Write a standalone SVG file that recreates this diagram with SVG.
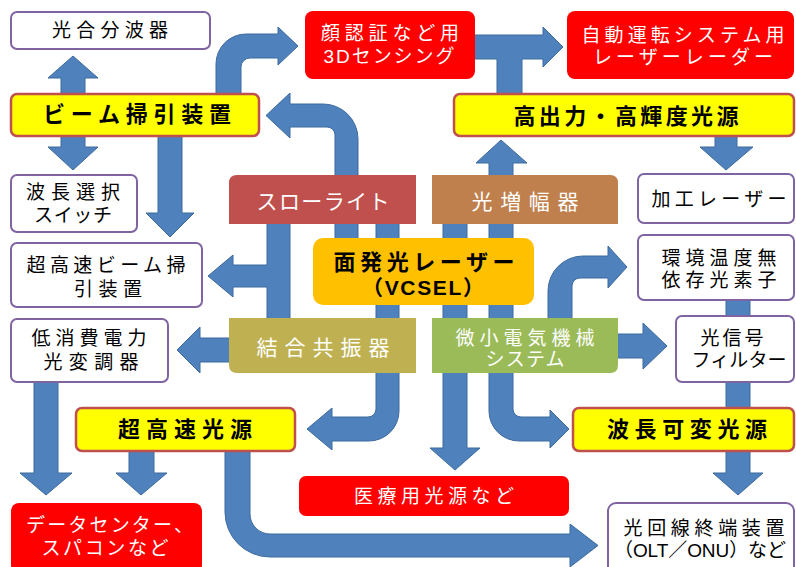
<svg xmlns="http://www.w3.org/2000/svg" width="796" height="567" viewBox="0 0 796 567">
<style>
.arr{fill:#4f81bd;stroke:#3d6a9e;stroke-width:1}
.wb{fill:#fff;stroke:#8064a2;stroke-width:2}
.yb{fill:#ffff00;stroke:#c0504d;stroke-width:2.5}
.rb{fill:#ff0000}
text{font-family:"Liberation Sans","Noto Sans CJK JP",sans-serif;dominant-baseline:central;text-anchor:middle}
.t{font-size:19px;fill:#000}
.tw{font-size:19px;fill:#fff}
.tb{font-size:22px;font-weight:bold;fill:#000}
.tc{font-size:21px;fill:#fff}
</style>
<rect width="796" height="567" fill="#fff"/>
<g id="connectors">
<path class="arr" d="M73,56 L98,78 L85,78 L85,147 L98,147 L73,170 L48,147 L61,147 L61,78 L48,78 Z"/>
<path class="arr" d="M158,130 L182,130 L182,213 L194,213 L170,237 L146,213 L158,213 Z"/>
<path class="arr" d="M216,100 L216,64 A30,30 0 0 1 246,34 L278,34 L278,27 L298,46 L278,65 L278,58 L250,58 A9,9 0 0 0 241,67 L241,100 Z"/>
<path class="arr" d="M358,240 L358,139 A35,35 0 0 0 323,104 L290,104 L290,93 L266,115.5 L290,138 L290,127 L327,127 A8,8 0 0 1 335,135 L335,240 Z"/>
<path class="arr" d="M501,140 L527,163 L513,163 L513,409 A8,8 0 0 0 521,417 L550,417 L550,410 L569,429 L550,448 L550,441 L519,441 A30,30 0 0 1 489,411 L489,163 L476,163 Z"/>
<path class="arr" d="M376,220 L399,220 L399,411 A30,30 0 0 1 369,441 L332,441 L332,450 L307,429 L332,408 L332,417 L368,417 A8,8 0 0 0 376,409 Z"/>
<path class="arr" d="M443,220 L467,220 L467,448 L480,448 L455,470 L430,448 L443,448 Z"/>
<path class="arr" d="M470,35 L543,35 L543,27 L563,47 L543,67 L543,59 L522,59 L522,100 L497,100 L497,59 L470,59 Z"/>
<path class="arr" d="M715,130 L737,130 L737,147 L753,147 L726,170 L700,147 L715,147 Z"/>
<path class="arr" d="M290,222 L290,320 L267,320 L267,287 L233,287 L233,297 L208,276 L233,255 L233,265 L267,265 L267,222 Z"/>
<path class="arr" d="M235,338 L235,362 L200,362 L200,373 L177,350 L200,327 L200,338 Z"/>
<path class="arr" d="M610,334 L643,334 L643,323 L667,346 L643,369 L643,358 L610,358 Z"/>
<path class="arr" d="M548,325 L548,291 A35,35 0 0 1 583,256 L608,256 L608,246 L627,267 L608,288 L608,278 L580,278 A8,8 0 0 0 572,286 L572,325 Z"/>
<path class="arr" d="M726,295 L750,295 L750,473 L763,473 L738,495 L713,473 L726,473 Z"/>
<path class="arr" d="M34,378 L58,378 L58,473 L72,473 L46,495 L20,473 L34,473 Z"/>
<path class="arr" d="M129,445 L154,445 L154,473 L167,473 L141,495 L116,473 L129,473 Z"/>
<path class="arr" d="M225,445 L250,445 L250,514 A20,20 0 0 0 270,534 L570,534 L570,524 L598,545.5 L570,567 L570,557 L270,557 A45,45 0 0 1 225,512 Z"/>
</g>
<g id="n-hikarigobunpa"><rect class="wb" x="11" y="12" width="199" height="37" rx="6"/><text class="t" x="110" y="30" textLength="116" lengthAdjust="spacing">光合分波器</text></g>
<g id="n-beam"><rect class="yb" x="11" y="94" width="248" height="42" rx="6"/><text class="tb" x="137" y="114" textLength="188" lengthAdjust="spacing">ビーム掃引装置</text></g>
<g id="n-3d"><rect class="rb" x="305" y="11" width="170" height="68" rx="8"/><text class="tw" x="390" y="33" textLength="138" lengthAdjust="spacing">顔認証など用</text><text class="tw" x="389" y="56" textLength="131" lengthAdjust="spacing">3Dセンシング</text></g>
<g id="n-jidou"><rect class="rb" x="567" y="11" width="227" height="68" rx="8"/><text class="tw" x="683" y="35" textLength="203" lengthAdjust="spacing">自動運転システム用</text><text class="tw" x="683" y="57" textLength="180" lengthAdjust="spacing">レーザーレーダー</text></g>
<g id="n-koushutsu"><rect class="yb" x="454" y="94" width="340" height="42" rx="6"/><text class="tb" x="626" y="116" textLength="225" lengthAdjust="spacing">高出力・高輝度光源</text></g>
<g id="n-hachousentaku"><rect class="wb" x="11" y="175" width="126" height="57" rx="6"/><text class="t" x="73" y="192" textLength="94" lengthAdjust="spacing">波長選択</text><text class="t" x="73" y="215" textLength="78" lengthAdjust="spacing">スイッチ</text></g>
<g id="n-chokousokubeam"><rect class="wb" x="11" y="243" width="191" height="64" rx="6"/><text class="t" x="106" y="265" textLength="159" lengthAdjust="spacing">超高速ビーム掃</text><text class="t" x="108" y="289" textLength="68" lengthAdjust="spacing">引装置</text></g>
<g id="n-teishouhi"><rect class="wb" x="11" y="319" width="157" height="63" rx="6"/><text class="t" x="89" y="338" textLength="115" lengthAdjust="spacing">低消費電力</text><text class="t" x="91" y="362" textLength="95" lengthAdjust="spacing">光変調器</text></g>
<g id="n-slowlight"><path fill="#c0504d" d="M229,224 L229,183 Q229,175 237,175 L416,175 L416,224 Z"/><text class="tc" x="323" y="201" textLength="133" lengthAdjust="spacing">スローライト</text></g>
<g id="n-zoufuku"><path fill="#c0804d" d="M432,175 L610,175 Q618,175 618,183 L618,224 L432,224 Z"/><text class="tc" x="525" y="201" textLength="107" lengthAdjust="spacing">光増幅器</text></g>
<g id="n-vcsel"><rect fill="#ffc000" x="313" y="238" width="221" height="67" rx="10"/><text class="tb" x="424" y="262" textLength="181" lengthAdjust="spacing">面発光レーザー</text><text class="tb" x="423" y="287" style="font-size:21px" textLength="122" lengthAdjust="spacing">（VCSEL）</text></g>
<g id="n-ketsugou"><path fill="#bfb152" d="M229,318 L416,318 L416,373 L237,373 Q229,373 229,365 Z"/><text class="tc" x="323" y="347" textLength="133" lengthAdjust="spacing">結合共振器</text></g>
<g id="n-mems"><path fill="#9bbb59" d="M432,318 L618,318 L618,365 Q618,373 610,373 L432,373 Z"/><text class="tw" x="525" y="338" textLength="139" lengthAdjust="spacing">微小電気機械</text><text class="tw" x="525" y="359" textLength="79" lengthAdjust="spacing">システム</text></g>
<g id="n-kakou"><rect class="wb" x="638" y="174" width="156" height="49" rx="6"/><text class="t" x="719" y="199" textLength="135" lengthAdjust="spacing">加工レーザー</text></g>
<g id="n-kankyou"><rect class="wb" x="638" y="235" width="156" height="65" rx="6"/><text class="t" x="719" y="258" textLength="115" lengthAdjust="spacing">環境温度無</text><text class="t" x="719" y="280" textLength="115" lengthAdjust="spacing">依存光素子</text></g>
<g id="n-filter"><rect class="wb" x="676" y="316" width="118" height="66" rx="6"/><text class="t" x="732" y="338" textLength="63" lengthAdjust="spacing">光信号</text><text class="t" x="739" y="360" textLength="95" lengthAdjust="spacing">フィルター</text></g>
<g id="n-chokousokukougen"><rect class="yb" x="76" y="408" width="219" height="43" rx="6"/><text class="tb" x="185" y="429" textLength="134" lengthAdjust="spacing">超高速光源</text></g>
<g id="n-kahen"><rect class="yb" x="573" y="408" width="221" height="43" rx="6"/><text class="tb" x="687" y="429" textLength="160" lengthAdjust="spacing">波長可変光源</text></g>
<g id="n-iryou"><rect class="rb" x="299" y="476" width="270" height="40" rx="7"/><text class="tw" x="434" y="496" textLength="160" lengthAdjust="spacing">医療用光源など</text></g>
<g id="n-datacenter"><rect class="rb" x="11" y="503" width="191" height="70" rx="8"/><text class="tw" x="26" y="525" style="text-anchor:start" textLength="167" lengthAdjust="spacing">データセンター、</text><text class="tw" x="105" y="548" textLength="127" lengthAdjust="spacing">スパコンなど</text></g>
<g id="n-olt"><rect class="wb" x="608" y="503" width="186" height="72" rx="8"/><text class="t" x="704" y="528" textLength="161" lengthAdjust="spacing">光回線終端装置</text><text class="t" x="614" y="550" style="text-anchor:start" textLength="172" lengthAdjust="spacing">（OLT／ONU）など</text></g>
</svg>
